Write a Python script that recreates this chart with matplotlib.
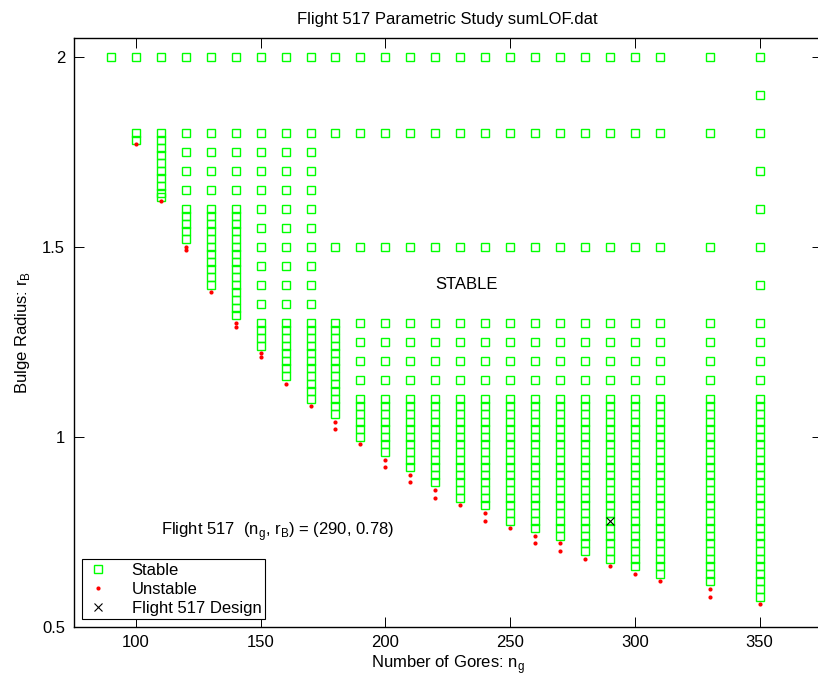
import matplotlib
matplotlib.use("Agg")
import matplotlib.pyplot as plt

plt.rcParams['font.family'] = ['Liberation Sans', 'DejaVu Sans']
plt.rcParams['mathtext.fontset'] = 'custom'
plt.rcParams['mathtext.rm'] = 'Liberation Sans'

# number of gores tested
gores = [90, 100, 110, 120, 130, 140, 150, 160, 170, 180, 190, 200, 210,
         220, 230, 240, 250, 260, 270, 280, 290, 300, 310, 330, 350]

# bulge radii that came out stable, one list per gore count
stable_rb = [
    [2.00],
    [2.00, 1.80, 1.78],
    [2.00, 1.80, 1.78, 1.76, 1.74, 1.72, 1.70, 1.68, 1.66, 1.64, 1.63],
    [2.00, 1.80, 1.75, 1.70, 1.65, 1.60, 1.58, 1.56, 1.54, 1.52],
    [2.00, 1.80, 1.75, 1.70, 1.65, 1.60, 1.58, 1.56, 1.54, 1.52, 1.50, 1.48,
     1.46, 1.44, 1.42, 1.40],
    [2.00, 1.80, 1.75, 1.70, 1.65, 1.60, 1.58, 1.56, 1.54, 1.52, 1.50, 1.48,
     1.46, 1.44, 1.42, 1.40, 1.38, 1.36, 1.34, 1.32],
    [2.00, 1.80, 1.75, 1.70, 1.65, 1.60, 1.55, 1.50, 1.45, 1.40, 1.35, 1.30,
     1.28, 1.26, 1.24],
    [2.00, 1.80, 1.75, 1.70, 1.65, 1.60, 1.55, 1.50, 1.45, 1.40, 1.35, 1.30,
     1.28, 1.26, 1.24, 1.22, 1.20, 1.18, 1.16],
    [2.00, 1.80, 1.75, 1.70, 1.65, 1.60, 1.55, 1.50, 1.45, 1.40, 1.35, 1.30,
     1.28, 1.26, 1.24, 1.22, 1.20, 1.18, 1.16, 1.14, 1.12, 1.10],
    [2.00, 1.80, 1.50, 1.30, 1.28, 1.26, 1.24, 1.22, 1.20, 1.18, 1.16, 1.14,
     1.12, 1.10, 1.08, 1.06],
    [2.00, 1.80, 1.50, 1.30, 1.25, 1.20, 1.15, 1.10, 1.08, 1.06, 1.04, 1.02,
     1.00],
    [2.00, 1.80, 1.50, 1.30, 1.25, 1.20, 1.15, 1.10, 1.08, 1.06, 1.04, 1.02,
     1.00, 0.98, 0.96],
    [2.00, 1.80, 1.50, 1.30, 1.25, 1.20, 1.15, 1.10, 1.08, 1.06, 1.04, 1.02,
     1.00, 0.98, 0.96, 0.94, 0.92],
    [2.00, 1.80, 1.50, 1.30, 1.25, 1.20, 1.15, 1.10, 1.08, 1.06, 1.04, 1.02,
     1.00, 0.98, 0.96, 0.94, 0.92, 0.90, 0.88],
    [2.00, 1.80, 1.50, 1.30, 1.25, 1.20, 1.15, 1.10, 1.08, 1.06, 1.04, 1.02,
     1.00, 0.98, 0.96, 0.94, 0.92, 0.90, 0.88, 0.86, 0.84],
    [2.00, 1.80, 1.50, 1.30, 1.25, 1.20, 1.15, 1.10, 1.08, 1.06, 1.04, 1.02,
     1.00, 0.98, 0.96, 0.94, 0.92, 0.90, 0.88, 0.86, 0.84, 0.82],
    [2.00, 1.80, 1.50, 1.30, 1.25, 1.20, 1.15, 1.10, 1.08, 1.06, 1.04, 1.02,
     1.00, 0.98, 0.96, 0.94, 0.92, 0.90, 0.88, 0.86, 0.84, 0.82, 0.80, 0.78],
    [2.00, 1.80, 1.50, 1.30, 1.25, 1.20, 1.15, 1.10, 1.08, 1.06, 1.04, 1.02,
     1.00, 0.98, 0.96, 0.94, 0.92, 0.90, 0.88, 0.86, 0.84, 0.82, 0.80, 0.78,
     0.76],
    [2.00, 1.80, 1.50, 1.30, 1.25, 1.20, 1.15, 1.10, 1.08, 1.06, 1.04, 1.02,
     1.00, 0.98, 0.96, 0.94, 0.92, 0.90, 0.88, 0.86, 0.84, 0.82, 0.80, 0.78,
     0.76, 0.74],
    [2.00, 1.80, 1.50, 1.30, 1.25, 1.20, 1.15, 1.10, 1.08, 1.06, 1.04, 1.02,
     1.00, 0.98, 0.96, 0.94, 0.92, 0.90, 0.88, 0.86, 0.84, 0.82, 0.80, 0.78,
     0.76, 0.74, 0.72, 0.70],
    [2.00, 1.80, 1.50, 1.30, 1.25, 1.20, 1.15, 1.10, 1.08, 1.06, 1.04, 1.02,
     1.00, 0.98, 0.96, 0.94, 0.92, 0.90, 0.88, 0.86, 0.84, 0.82, 0.80, 0.78,
     0.76, 0.74, 0.72, 0.70, 0.68],
    [2.00, 1.80, 1.50, 1.30, 1.25, 1.20, 1.15, 1.10, 1.08, 1.06, 1.04, 1.02,
     1.00, 0.98, 0.96, 0.94, 0.92, 0.90, 0.88, 0.86, 0.84, 0.82, 0.80, 0.78,
     0.76, 0.74, 0.72, 0.70, 0.68, 0.66],
    [2.00, 1.80, 1.50, 1.30, 1.25, 1.20, 1.15, 1.10, 1.08, 1.06, 1.04, 1.02,
     1.00, 0.98, 0.96, 0.94, 0.92, 0.90, 0.88, 0.86, 0.84, 0.82, 0.80, 0.78,
     0.76, 0.74, 0.72, 0.70, 0.68, 0.66, 0.64],
    [2.00, 1.80, 1.50, 1.30, 1.25, 1.20, 1.15, 1.10, 1.08, 1.06, 1.04, 1.02,
     1.00, 0.98, 0.96, 0.94, 0.92, 0.90, 0.88, 0.86, 0.84, 0.82, 0.80, 0.78,
     0.76, 0.74, 0.72, 0.70, 0.68, 0.66, 0.64, 0.62],
    [2.00, 1.90, 1.80, 1.70, 1.60, 1.50, 1.40, 1.30, 1.25, 1.20, 1.15, 1.10,
     1.08, 1.06, 1.04, 1.02, 1.00, 0.98, 0.96, 0.94, 0.92, 0.90, 0.88, 0.86,
     0.84, 0.82, 0.80, 0.78, 0.76, 0.74, 0.72, 0.70, 0.68, 0.66, 0.64, 0.62,
     0.60, 0.58],
]

# bulge radii that came out unstable
unstable_rb = [
    [], [1.77], [1.62], [1.50, 1.49], [1.38], [1.30, 1.29], [1.22, 1.21],
    [1.14], [1.08], [1.04, 1.02], [0.98], [0.94, 0.92], [0.90, 0.88],
    [0.86, 0.84], [0.82], [0.80, 0.78], [0.76], [0.74, 0.72], [0.72, 0.70],
    [0.68], [0.66], [0.64], [0.62], [0.60, 0.58], [0.56],
]

design_ng = 290
design_rb = 0.78

sx, sy, ux, uy = [], [], [], []
for ng, st, un in zip(gores, stable_rb, unstable_rb):
    sx += [ng] * len(st)
    sy += st
    ux += [ng] * len(un)
    uy += un

fs = 12

fig = plt.figure(figsize=(8.18, 6.75), dpi=100)
ax = fig.add_axes([73.5 / 818, 48 / 675, 748.5 / 818, 589.5 / 675])

ax.plot(sx, sy, 's', mfc='none', mec='#00ff00', ms=6.3, mew=1.0, label='Stable')
ax.plot(ux, uy, 'o', color='red', ms=3, mew=0, label='Unstable')
ax.plot([design_ng], [design_rb], 'x', color='black', ms=6, mew=0.8,
        label='Flight 517 Design')

ax.set_xlim(75, 375)
ax.set_ylim(0.5, 2.05)
ax.set_xticks([100, 150, 200, 250, 300, 350])
ax.set_yticks([0.5, 1, 1.5, 2])
ax.set_yticklabels(['0.5', '1', '1.5', '2'])
ax.tick_params(direction='in', length=7, width=0.7, top=True, right=True,
               labelsize=fs, pad=6)
for sp in ax.spines.values():
    sp.set_linewidth(1.0)

ax.set_title('Flight 517 Parametric Study sumLOF.dat', fontsize=fs, pad=10)
ax.set_xlabel(r'Number of Gores: n$_\mathrm{g}$', fontsize=fs)
ax.set_ylabel(r'Bulge Radius: r$_\mathrm{B}$', fontsize=fs)
ax.xaxis.set_label_coords(0.5, -0.045)
ax.yaxis.set_label_coords(-0.055, 0.5)

ax.text(220, 1.40, 'STABLE', fontsize=fs, va='center', ha='left')
ax.text(110, 0.75, r'Flight 517  (n$_\mathrm{g}$, r$_\mathrm{B}$) = (290, 0.78)',
        fontsize=fs, va='center', ha='left')

leg = ax.legend(loc='lower left', bbox_to_anchor=(0.011, 0.013),
                borderaxespad=0, fontsize=fs, frameon=True, fancybox=False,
                edgecolor='black', framealpha=1, labelspacing=0.25,
                handletextpad=1.2, borderpad=0.2, handlelength=1.6)
leg.get_frame().set_linewidth(0.8)

fig.savefig('out.png', dpi=100)
